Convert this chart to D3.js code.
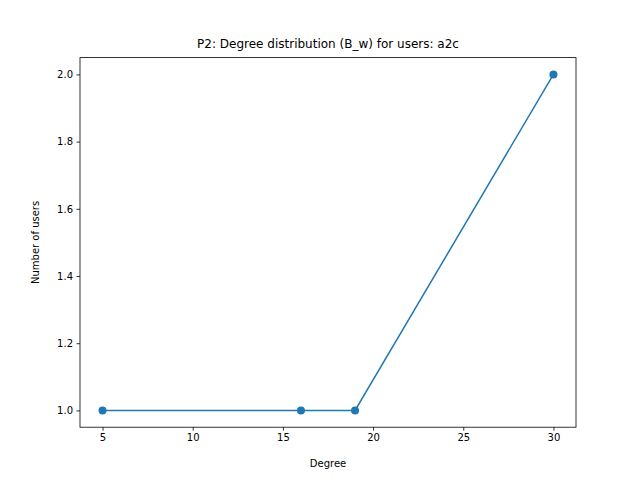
<!DOCTYPE html>
<html>
<head>
<meta charset="utf-8">
<script src="https://cdn.jsdelivr.net/npm/d3@7"></script>
<style>
  body { margin: 0; background: #fff; }
  text { font-family: "DejaVu Sans", sans-serif; }
</style>
</head>
<body>
<svg id="chart" width="640" height="480"></svg>
<script>
'use strict';
(() => {
const degrees = [5, 16, 19, 30];
const users = [1, 1, 1, 2];
const xTicks = [5, 10, 15, 20, 25, 30];
const yTicks = [1.0, 1.2, 1.4, 1.6, 1.8, 2.0];

const plotLeft = 80, plotRight = 576, plotTop = 57.6, plotBottom = 427.2;
const color = '#1f77b4';

const svg = d3.select('#chart');
const x = d3.scaleLinear().domain([3.75, 31.25]).range([plotLeft, plotRight]);
const y = d3.scaleLinear().domain([0.95, 2.05]).range([plotBottom, plotTop]);

const xAxis = svg.append('g')
  .attr('transform', `translate(0,${plotBottom})`)
  .call(d3.axisBottom(x).tickValues(xTicks).tickSize(3.5).tickPadding(3.5).tickFormat(d3.format('d')));
const yAxis = svg.append('g')
  .attr('transform', `translate(${plotLeft},0)`)
  .call(d3.axisLeft(y).tickValues(yTicks).tickSize(3.5).tickPadding(3.5).tickFormat(d3.format('.1f')));
[xAxis, yAxis].forEach(a => {
  a.select('.domain').remove();
  a.selectAll('text').attr('font-size', 10).attr('fill', '#000')
    .style('font-family', '"DejaVu Sans", sans-serif');
  a.selectAll('line').attr('stroke', '#000').attr('stroke-width', 0.8);
});

const line = d3.line().x(d => x(d)).y((d, i) => y(users[i]));
svg.append('path').datum(degrees)
  .attr('d', line).attr('fill', 'none')
  .attr('stroke', color).attr('stroke-width', 1.5);

svg.selectAll('circle.pt').data(degrees).enter().append('circle')
  .attr('class', 'pt')
  .attr('cx', d => x(d)).attr('cy', (d, i) => y(users[i]))
  .attr('r', 4).attr('fill', color);

svg.append('rect')
  .attr('x', plotLeft).attr('y', plotTop)
  .attr('width', plotRight - plotLeft).attr('height', plotBottom - plotTop)
  .attr('fill', 'none').attr('stroke', '#000').attr('stroke-width', 0.8);

svg.append('text').attr('x', (plotLeft + plotRight) / 2).attr('y', 48)
  .attr('text-anchor', 'middle').attr('font-size', 12)
  .text('P2: Degree distribution (B_w) for users: a2c');
svg.append('text').attr('x', (plotLeft + plotRight) / 2).attr('y', 467)
  .attr('text-anchor', 'middle').attr('font-size', 10).text('Degree');
svg.append('text')
  .attr('transform', `translate(39,${(plotTop + plotBottom) / 2}) rotate(-90)`)
  .attr('text-anchor', 'middle').attr('font-size', 10).text('Number of users');
})();
</script>
</body>
</html>
